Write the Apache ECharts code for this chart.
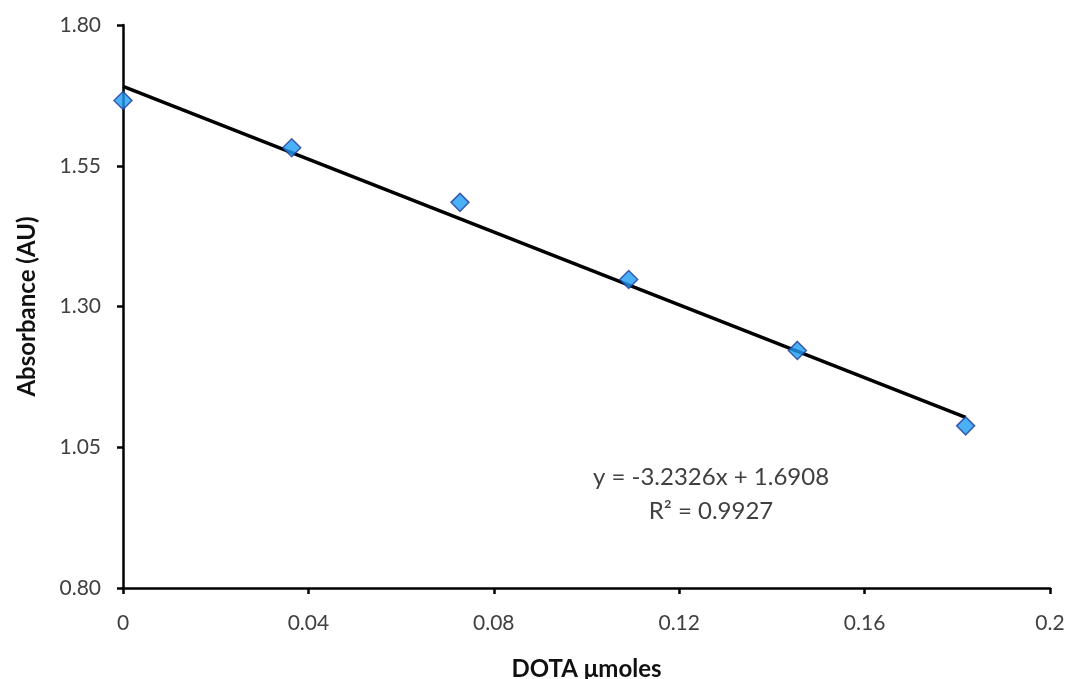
<!DOCTYPE html>
<html>
<head>
<meta charset="utf-8">
<title>Absorbance vs DOTA</title>
<script src="https://cdn.jsdelivr.net/npm/echarts@6/dist/echarts.min.js"></script>
<style>
  html, body { margin: 0; padding: 0; background: #fff; }
  #chart { width: 1070px; height: 679px; }
</style>
</head>
<body>
<div id="chart"></div>
<script>
// Measured points
const dotaUmoles = [0, 0.0364, 0.0727, 0.1091, 0.1455, 0.1818];
const absorbance = [1.666, 1.582, 1.485, 1.348, 1.222, 1.088];

// Linear fit reported for the data
const fitSlope = -3.2326;
const fitIntercept = 1.6908;
const fitR2 = 0.9927;

// Axis ticks
const xTicks = [0, 0.04, 0.08, 0.12, 0.16, 0.2];
const yTicks = [0.80, 1.05, 1.30, 1.55, 1.80];

const points = dotaUmoles.map((x, i) => [x, absorbance[i]]);
const xFirst = dotaUmoles[0];
const xLast = dotaUmoles[dotaUmoles.length - 1];
const fitLine = [
  [xFirst, fitSlope * xFirst + fitIntercept],
  [xLast, fitSlope * xLast + fitIntercept]
];

const FONT = 'Lato, "Open Sans", sans-serif';
const chart = echarts.init(document.getElementById('chart'), null, { renderer: 'canvas' });

chart.setOption({
  animation: false,
  backgroundColor: '#ffffff',
  grid: {
    left: 123, right: 20, top: 25, bottom: 91,
    containLabel: false, outerBoundsMode: 'none'
  },
  xAxis: {
    type: 'value',
    min: xTicks[0],
    max: xTicks[xTicks.length - 1],
    interval: 0.04,
    name: 'DOTA \u03bcmoles',
    nameLocation: 'middle',
    nameGap: 69,
    nameTextStyle: { fontFamily: FONT, fontWeight: 'bold', fontSize: 24, color: '#111' },
    axisLine: { lineStyle: { color: '#000', width: 2.5 } },
    axisTick: { show: true, inside: false, length: 6, lineStyle: { color: '#000', width: 2.5 } },
    axisLabel: {
      margin: 25, fontFamily: FONT, fontSize: 21, color: '#404040',
      formatter: v => {
        const t = xTicks.find(k => Math.abs(k - v) < 1e-9);
        return t === undefined ? '' : String(t);
      }
    },
    splitLine: { show: false }
  },
  yAxis: {
    type: 'value',
    min: yTicks[0],
    max: yTicks[yTicks.length - 1],
    interval: 0.25,
    name: 'Absorbance (AU)',
    nameLocation: 'middle',
    nameGap: 84,
    nameRotate: 90,
    nameTextStyle: { fontFamily: FONT, fontWeight: 'bold', fontSize: 24, color: '#111' },
    axisLine: { show: true, lineStyle: { color: '#000', width: 2.5 } },
    axisTick: { show: true, inside: false, length: 6, lineStyle: { color: '#000', width: 2.5 } },
    axisLabel: {
      margin: 22, fontFamily: FONT, fontSize: 21, color: '#404040',
      formatter: v => v.toFixed(2)
    },
    splitLine: { show: false }
  },
  series: [
    {
      name: 'Linear fit',
      type: 'line',
      data: fitLine,
      showSymbol: false,
      symbol: 'none',
      lineStyle: { color: '#000', width: 3.5 },
      z: 2
    },
    {
      name: 'Absorbance',
      type: 'scatter',
      data: points,
      symbol: 'diamond',
      symbolSize: [18, 18],
      itemStyle: { color: '#1e9cf2', borderColor: '#1f3f9c', borderWidth: 1.5 },
      z: 3
    }
  ],
  graphic: [
    {
      type: 'text',
      style: {
        text: 'y = ' + fitSlope + 'x + ' + fitIntercept,
        x: 711, y: 477,
        fill: '#404040', font: '24px ' + FONT,
        align: 'center', verticalAlign: 'middle'
      }
    },
    {
      type: 'text',
      style: {
        text: 'R\u00b2 = ' + fitR2,
        x: 711, y: 511,
        fill: '#404040', font: '24px ' + FONT,
        align: 'center', verticalAlign: 'middle'
      }
    }
  ]
});
</script>
</body>
</html>
